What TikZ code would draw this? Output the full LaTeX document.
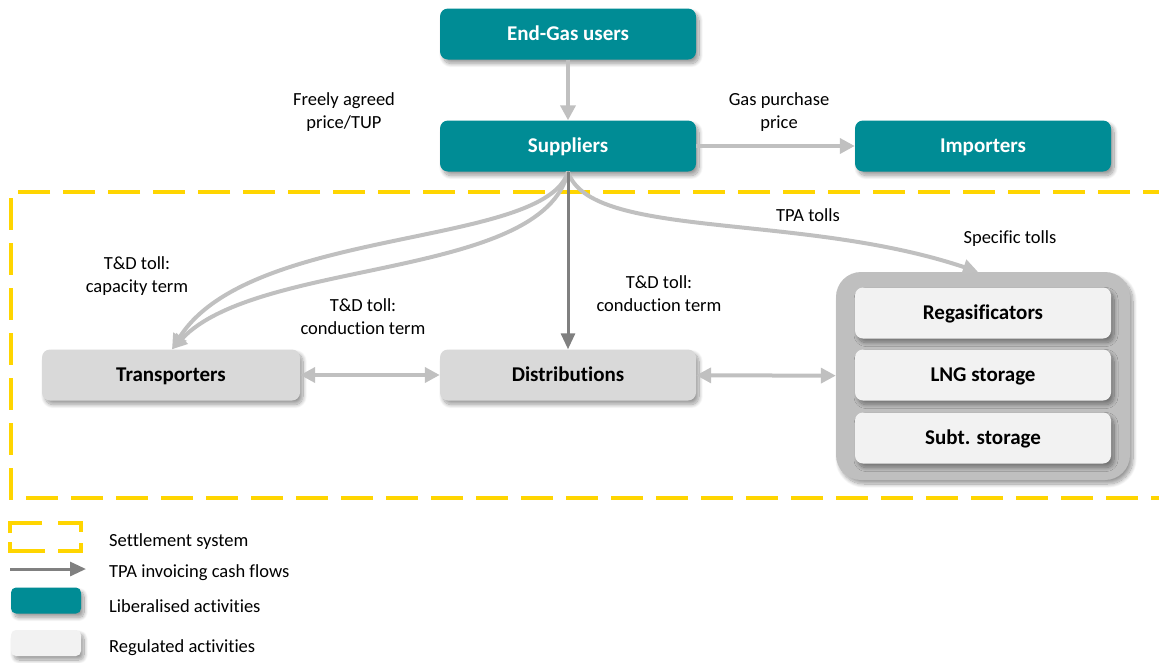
\documentclass[tikz,border=0pt]{standalone}
\usepackage{fontspec}
\setmainfont{Carlito}[Ligatures=NoCommon]
\usetikzlibrary{arrows.meta,shadows.blur}

\definecolor{tealbox}{HTML}{008C95}
\definecolor{boxgray}{HTML}{D9D9D9}
\definecolor{innergray}{HTML}{F2F2F2}
\definecolor{groupgray}{HTML}{BFBFBF}
\definecolor{flowlight}{HTML}{C0C0C0}
\definecolor{flowdark}{HTML}{808080}
\definecolor{settle}{HTML}{FFD500}

\tikzset{
  softshadow/.style={blur shadow={shadow xshift=3pt, shadow yshift=-4pt,
      shadow blur radius=4pt, shadow blur steps=12, shadow opacity=40}},
  card/.style={rounded corners=8pt, minimum width=256pt, minimum height=51pt,
      inner sep=0pt, text height=13.5pt, text depth=0pt,
      font=\fontsize{21}{25}\selectfont\bfseries, softshadow},
  libbox/.style={card, fill=tealbox, text=white},
  regbox/.style={card, fill=boxgray},
  subbox/.style={card, fill=innergray},
  note/.style={font=\fontsize{18.5}{23}\selectfont, align=center, inner sep=0pt},
  legendtext/.style={font=\fontsize{18.5}{23}\selectfont, anchor=west, inner sep=0pt},
  tip/.tip={Triangle[length=15pt,width=15pt]},
  flow/.style={draw=flowlight, line width=4pt, -tip},
  twoway/.style={draw=flowlight, line width=4pt, tip-tip},
  invoice/.style={draw=flowdark, line width=3pt, -{Triangle[length=16pt,width=14pt]}},
  settleline/.style={draw=settle, line width=4pt},
}

\begin{document}
\begin{tikzpicture}[x=1pt, y=-1pt]
\useasboundingbox (0,0) rectangle (1159,662);
\clip (0,0) rectangle (1159,662);

% settlement system frame (runs off the right edge)
\draw[settleline, dash pattern=on 32pt off 13pt]
  (1175,192) -- (11,192) -- (11,498) -- (1175,498);

% liberalised activities
\node[libbox] (users) at (568,34) {End-Gas users};
\node[libbox] (sup) at (568,146) {Suppliers};
\node[libbox] (imp) at (983,146) {Importers};

% regulated activities
\node[regbox, minimum width=258pt] (trans) at (171,375) {Transporters};
\node[regbox] (dist) at (568,375) {Distributions};
\node[rounded corners=25pt, fill=groupgray, minimum width=294pt,
      minimum height=208pt, softshadow] (grp) at (983,376) {};
\node[subbox] (regas) at (983,313) {Regasificators};
\node[subbox] (lng) at (983,375) {LNG storage};
\node[subbox] (subt) at (983,438) {Subt. storage};

% cash flows
\draw[flow] (users) -- (sup);
\draw[flow] (sup) -- (imp);
\draw[flow] (sup.south) .. controls (545,248) and (250,226) .. ([xshift=1pt]trans.north);
\draw[flow] (sup.south) .. controls (543,280) and (258,258) .. ([xshift=1pt]trans.north);
\draw[flow] (sup.south) .. controls (590,240) and (800,212) .. ([xshift=-5pt]grp.north);
\draw[invoice] (sup.south) -- (dist.north);
\draw[twoway] (trans) -- (dist);
\draw[twoway] (dist) -- (grp);

% flow labels
\node[note] (lfree) at (344,112) {Freely agreed\\price/TUP};
\node[note] (lgas) at (779,112) {Gas purchase\\price};
\node[note] (lcap) at (137,276) {T\&D toll:\\capacity term};
\node[note] (lcondl) at (363,317) {T\&D toll:\\conduction term};
\node[note] (lcondr) at (659,294) {T\&D toll:\\conduction term};
\node[note] (ltpa) at (808,215) {TPA tolls};
\node[note] (lspec) at (1010,239) {Specific tolls};

% legend
\draw[settleline] (10,533) -- (10,523) -- (42,523);
\draw[settleline] (58,523) -- (81,523) -- (81,532);
\draw[settleline] (81,543) -- (81,551) -- (58,551);
\draw[settleline] (45,551) -- (10,551) -- (10,542);
\coordinate (kstart) at (10,569);
\coordinate (kend) at (86,569);
\draw[invoice] (kstart) -- (kend);
\node[rounded corners=5pt, fill=tealbox, minimum width=70pt, minimum height=26pt,
      inner sep=0pt, softshadow] (klib) at (46,600.5) {};
\node[rounded corners=5pt, fill=innergray, minimum width=70pt, minimum height=26pt,
      inner sep=0pt, softshadow] (kreg) at (46,643) {};
\node[legendtext] (tsettle) at (109,542) {Settlement system};
\node[legendtext] (tinv) at (109,573) {TPA invoicing cash flows};
\node[legendtext] (tlib) at (109,606) {Liberalised activities};
\node[legendtext] (treg) at (109,648) {Regulated activities};
\end{tikzpicture}
\end{document}
